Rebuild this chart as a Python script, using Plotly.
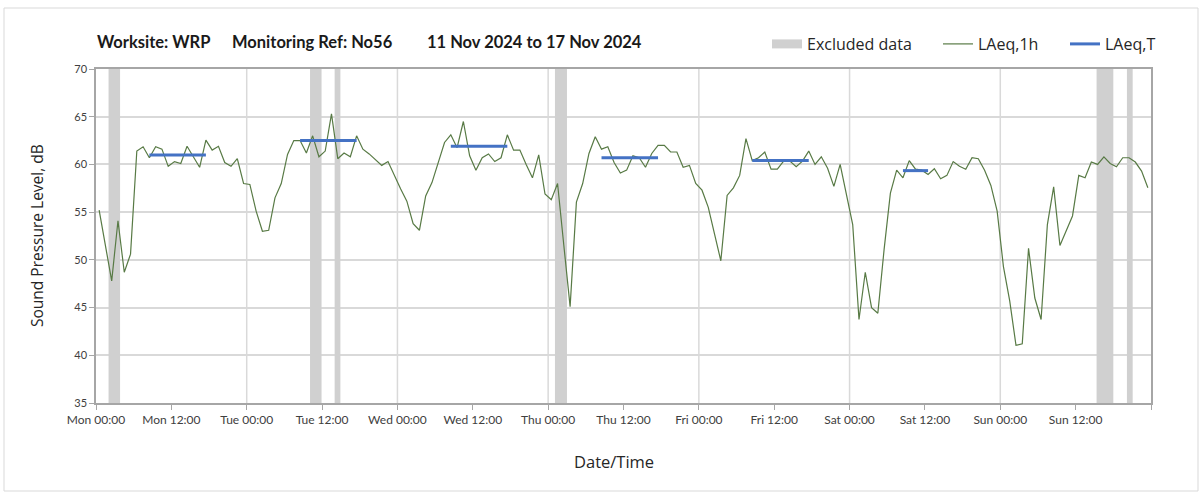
import pandas as pd
import plotly.graph_objects as go

# Hourly LAeq,1h readings (dB), Mon 11 Nov 2024 00:00 onwards, one per hour
LAEQ_1H = [
    55.2, 51.6, 47.8, 54.1, 48.7, 50.6, 61.4, 61.85, 60.7, 61.85, 61.6, 59.8,
    60.3, 60.1, 61.9, 60.8, 59.7, 62.55, 61.5, 61.9, 60.2, 59.8, 60.6, 58.0,
    57.9, 55.1, 53.0, 53.1, 56.5, 58.0, 61.05, 62.5, 62.5, 61.2, 63.0, 60.8,
    61.4, 65.3, 60.6, 61.2, 60.8, 63.0, 61.6, 61.1, 60.5, 59.9, 60.3, 58.8,
    57.45, 56.15, 53.8, 53.1, 56.7, 58.1, 60.2, 62.3, 63.1, 61.75, 64.5, 60.9,
    59.4, 60.7, 61.1, 60.3, 60.7, 63.1, 61.5, 61.5, 60.0, 58.6, 61.0, 56.9,
    56.3, 58.0, 51.5, 45.1, 56.05, 58.0, 61.15, 62.9, 61.6, 61.85, 60.2, 59.1,
    59.4, 60.9, 60.7, 59.7, 61.15, 62.0, 62.0, 61.3, 61.3, 59.7, 59.9, 58.0,
    57.3, 55.5, 52.7, 49.9, 56.75, 57.55, 58.85, 62.7, 60.4, 60.7, 61.3, 59.5,
    59.5, 60.35, 60.35, 59.75, 60.35, 61.4, 60.0, 60.8, 59.6, 57.7, 60.0, 56.85,
    53.7, 43.75, 48.7, 45.0, 44.4, 51.1, 57.0, 59.4, 58.6, 60.4, 59.5, 59.4,
    58.95, 59.55, 58.5, 58.85, 60.3, 59.8, 59.5, 60.7, 60.6, 59.4, 57.8, 55.1,
    49.3, 45.7, 41.05, 41.2, 51.2, 46.0, 43.75, 53.7, 57.65, 51.5, 53.0, 54.6,
    58.85, 58.6, 60.25, 60.0, 60.8, 60.1, 59.75, 60.7, 60.7, 60.25, 59.3, 57.55,
]

# LAeq,T over each assessment period
PERIOD_START = ["2024-11-11 08:00", "2024-11-12 08:00", "2024-11-13 08:00",
                "2024-11-14 08:00", "2024-11-15 08:00", "2024-11-16 08:00"]
PERIOD_END = ["2024-11-11 18:00", "2024-11-12 18:00", "2024-11-13 18:00",
              "2024-11-14 18:00", "2024-11-15 18:00", "2024-11-16 13:00"]
LAEQ_T = [61.0, 62.5, 61.9, 60.7, 60.4, 59.35]

# Periods excluded from the assessment
EXCL_START = ["2024-11-11 02:00", "2024-11-12 10:05", "2024-11-12 14:00",
              "2024-11-14 01:05", "2024-11-17 15:20", "2024-11-17 20:10"]
EXCL_END = ["2024-11-11 03:50", "2024-11-12 11:55", "2024-11-12 14:55",
            "2024-11-14 03:00", "2024-11-17 18:00", "2024-11-17 21:05"]

Y_TICKS = [35, 40, 45, 50, 55, 60, 65, 70]

TITLE_PARTS = ["Worksite: WRP", "Monitoring Ref: No56", "11 Nov 2024 to 17 Nov 2024"]

GREEN = "#587a45"
BLUE = "#4472c4"
GREY = "#d0d0d0"
TXT = "#404040"

W, H = 1203, 493
ML, MR, MT, MB = 96, 52, 69, 90
PW, PH = W - ML - MR, H - MT - MB


def px(x):
    return (x - ML) / PW


def py(y):
    return (H - MB - y) / PH


t0 = pd.Timestamp("2024-11-11 00:00")
t_end = t0 + pd.Timedelta(days=7)
hours = pd.date_range(t0 + pd.Timedelta(minutes=30), periods=len(LAEQ_1H), freq="h")

fig = go.Figure()

# excluded-data bands
ex_s = pd.to_datetime(EXCL_START)
ex_e = pd.to_datetime(EXCL_END)
fig.add_trace(go.Bar(
    x=ex_s + (ex_e - ex_s) / 2,
    y=[70 - 35] * len(ex_s),
    base=35,
    width=[(e - s).total_seconds() * 1000 for s, e in zip(ex_s, ex_e)],
    marker=dict(color=GREY, line=dict(width=0)),
    name="Excluded data", showlegend=False, hoverinfo="skip",
))
fig.add_trace(go.Scatter(
    x=[None], y=[None], mode="lines", name="Excluded data",
    line=dict(color=GREY, width=9), legend="legend",
))

fig.add_trace(go.Scatter(
    x=hours, y=LAEQ_1H, mode="lines", name="LAeq,1h",
    line=dict(color=GREEN, width=1.2), legend="legend2",
))

# LAeq,T segments spanning the hourly points of each period
tx, ty = [], []
for s, e, v in zip(PERIOD_START, PERIOD_END, LAEQ_T):
    s, e = pd.Timestamp(s), pd.Timestamp(e)
    tx += [s + pd.Timedelta(minutes=30), e - pd.Timedelta(minutes=30), None]
    ty += [v, v, None]
fig.add_trace(go.Scatter(
    x=tx, y=ty, mode="lines", name="LAeq,T",
    line=dict(color=BLUE, width=3), legend="legend3",
))

# daily vertical gridlines
for d in pd.date_range(t0 + pd.Timedelta(days=1), periods=6, freq="D"):
    fig.add_shape(type="line", xref="x", yref="paper", x0=d, x1=d, y0=0, y1=1,
                  line=dict(color="#d9d9d9", width=1.5), layer="below")

# outer chart border
fig.add_shape(type="rect", xref="paper", yref="paper",
              x0=px(4), x1=px(1198), y0=py(8), y1=py(491),
              line=dict(color="#d9d9d9", width=1))

tick_vals = pd.date_range(t0, periods=14, freq="12h")
tick_text = [t.strftime("%a %H:%M") for t in tick_vals]


def legend_at(x):
    return dict(orientation="h", x=px(x), y=py(44), xanchor="left", yanchor="middle",
                font=dict(size=16, color="#262626", family="Open Sans"),
                itemwidth=30, bgcolor="rgba(0,0,0,0)")


title_x = [95, 230, 425]
annotations = [
    dict(text=f"<b>{t}</b>", xref="paper", yref="paper", x=px(x0), y=py(42),
         xanchor="left", yanchor="middle", showarrow=False,
         font=dict(size=16.5, color="#1a1a1a", family="Lato"))
    for t, x0 in zip(TITLE_PARTS, title_x)
]
annotations += [
    dict(text="Date/Time", xref="paper", yref="paper", x=px(614), y=py(462),
         xanchor="center", yanchor="middle", showarrow=False,
         font=dict(size=16.5, color="#262626")),
    dict(text="Sound Pressure Level, dB", xref="paper", yref="paper", x=px(37), y=py(236),
         xanchor="center", yanchor="middle", textangle=-90, showarrow=False,
         font=dict(size=15.5, color="#262626")),
]

fig.update_layout(
    width=W, height=H,
    margin=dict(l=ML, r=MR, t=MT, b=MB),
    paper_bgcolor="white", plot_bgcolor="white",
    font=dict(family="Open Sans", color=TXT),
    barmode="overlay",
    showlegend=True,
    legend=legend_at(767),
    legend2=legend_at(938),
    legend3=legend_at(1065),
    annotations=annotations,
)

fig.update_xaxes(
    type="date", range=[t0, t_end],
    tickvals=list(tick_vals) + [t_end], ticktext=tick_text + [""],
    ticks="outside", ticklen=5, tickcolor="#a6a6a6", tickwidth=1,
    showgrid=False, zeroline=False,
    showline=True, linecolor="#a6a6a6", linewidth=1.5, mirror=True,
    tickfont=dict(size=12, color=TXT, family="Lato"),
)
fig.update_yaxes(
    range=[35, 70], tickvals=Y_TICKS,
    ticks="outside", ticklen=5, tickcolor="#a6a6a6", tickwidth=1,
    showgrid=True, gridcolor="#d9d9d9", gridwidth=1.5, zeroline=False,
    showline=True, linecolor="#a6a6a6", linewidth=1.5, mirror=True,
    tickfont=dict(size=11, color=TXT, family="Lato"),
)

fig.write_html("out.html")
